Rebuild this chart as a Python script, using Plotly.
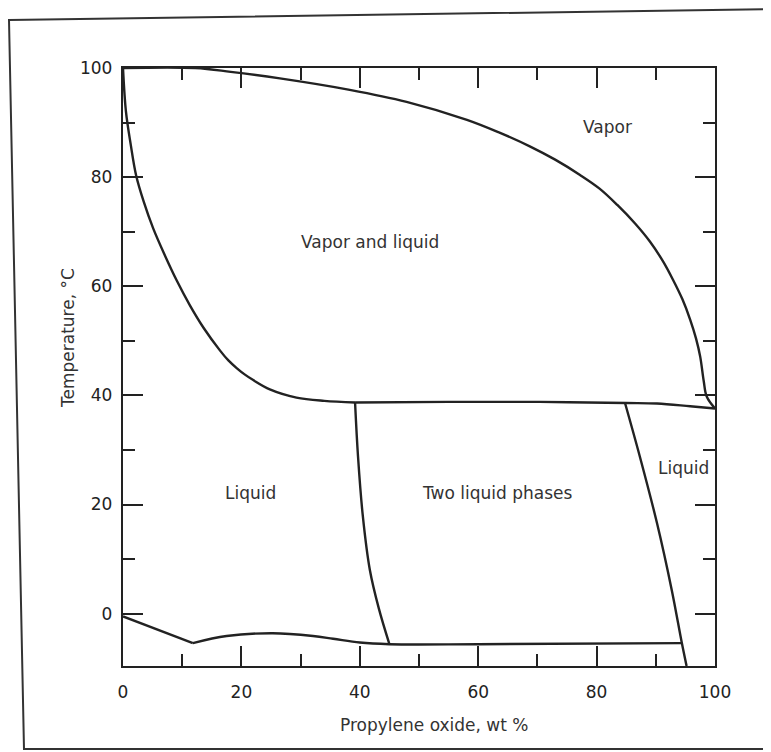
import plotly.graph_objects as go

# ---- data ----
dew_x = [0, 12.2, 18.2, 26.5, 38.3, 47.9, 58.1, 63.5, 68.8, 73.0, 77.2, 80.5, 83.5, 86.5, 89.0, 91.2,
         92.9, 94.5, 95.8, 96.8, 97.5, 98.1, 98.6, 100]
dew_y = [100, 100, 99.3, 98.1, 96.0, 93.8, 90.5, 88.2, 85.6, 83.2, 80.4, 77.9, 74.9, 71.5, 68.2, 64.6,
         61.2, 57.6, 53.9, 50.4, 47.1, 42.6, 39.8, 37.6]

bubble_x = [0, 0.5, 1.3, 2.2, 3.5, 5.1, 7.1, 9.1, 11.3, 13.6, 16.4, 17.8, 19.2, 20.6, 22, 24.8, 29.3,
            34.0, 39.2]
bubble_y = [100, 92, 86, 80.4, 75.5, 70.6, 65.6, 61.0, 56.5, 52.4, 48.2, 46.4, 45.0, 43.8, 42.8, 41.1,
            39.6, 39.0, 38.7]

three_x = [39.2, 55, 70.4, 85, 90.2, 95.8, 100]
three_y = [38.7, 38.8, 38.8, 38.6, 38.5, 38.0, 37.6]

left_x = [39.2, 39.7, 40.5, 41.7, 43.2, 45.0]
left_y = [38.7, 28.8, 18, 8, 1, -5.6]

right_x = [84.8, 87.3, 90.2, 92.7, 94.4, 95.2]
right_y = [38.6, 28.8, 16.6, 4.3, -5.4, -9.6]

sol1_x = [0, 11.8]
sol1_y = [-0.5, -5.4]
sol2_x = [11.8, 17.5, 25.3, 32.1, 35.5, 40, 45, 60, 94.4]
sol2_y = [-5.4, -4.1, -3.6, -4.1, -4.6, -5.3, -5.6, -5.6, -5.4]

label_text = ["Vapor", "Vapor and liquid", "Liquid", "Two liquid phases", "Liquid"]
label_x = [81.9, 41.7, 21.5, 63.2, 94.6]
label_y = [89.2, 68.1, 22.1, 22.1, 26.7]

x_ticks = [0, 20, 40, 60, 80, 100]
y_ticks = [0, 20, 40, 60, 80, 100]

# ---- layout geometry (page has an 8px body margin) ----
OX, OY = 8, 8
W, H = 771 - OX, 752 - OY
PL, PR, PT, PB = 123 - OX, 715 - OX, 68 - OY, 666 - OY   # plot edges in figure px
L, R, T, B = PL, W - PR, PT, H - PB
pw, ph = PR - PL, PB - PT


def px_x(x):
    return (x - OX - PL) / pw


def px_y(y):
    return (PB - (y - OY)) / ph


fig = go.Figure()
curves = [(dew_x, dew_y, "spline"), (bubble_x, bubble_y, "spline"),
          (three_x, three_y, "spline"), (left_x, left_y, "spline"),
          (right_x, right_y, "spline"),
          (sol1_x, sol1_y, "linear"), (sol2_x, sol2_y, "spline")]
for xs, ys, shp in curves:
    fig.add_trace(go.Scatter(x=xs, y=ys, mode="lines",
                             line=dict(color="#222222", width=2.4, shape=shp, smoothing=1.0),
                             hoverinfo="skip", showlegend=False))

for t, x, y in zip(label_text, label_x, label_y):
    fig.add_annotation(x=x, y=y, text=t, showarrow=False, xanchor="center", yanchor="middle",
                       font=dict(family="DejaVu Sans", size=17, color="#333333"))

fig.add_annotation(xref="paper", yref="paper", x=px_x(435), y=px_y(725),
                   xanchor="center", yanchor="middle",
                   text="Propylene oxide, wt %", showarrow=False,
                   font=dict(family="DejaVu Sans", size=17, color="#333333"))
fig.add_annotation(xref="paper", yref="paper", x=px_x(68), y=px_y(338),
                   xanchor="center", yanchor="middle",
                   text="Temperature, °C", textangle=-90, showarrow=False,
                   font=dict(family="DejaVu Sans", size=17, color="#333333"))

# outer frame of the scanned figure (slightly skewed, as in the scan)
fx = [9, 780, 780, 24]
fy = [20, 9, 749, 749]
frame_path = "M " + " L ".join(f"{px_x(a):.5f},{px_y(b):.5f}" for a, b in zip(fx, fy)) + " Z"
fig.add_shape(type="path", xref="paper", yref="paper", path=frame_path,
              line=dict(color="#333333", width=2), layer="below")

axis_common = dict(
    showgrid=False, zeroline=False, showline=True, linecolor="#222222", linewidth=2.4,
    mirror="ticks", ticks="inside", ticklen=20, tickwidth=1.5, tickcolor="#222222",
    tickfont=dict(family="DejaVu Sans", size=17, color="#222222"),
    minor=dict(ticks="inside", ticklen=12, tickwidth=1.5, tickcolor="#222222", dtick=10),
)

fig.update_xaxes(range=[0, 100], tickvals=x_ticks, ticklabelstandoff=9, **axis_common)
fig.update_yaxes(range=[-9.6, 100], tickvals=y_ticks, ticklabelstandoff=5, **axis_common)

fig.update_layout(
    width=W, height=H,
    margin=dict(l=L, r=R, t=T, b=B),
    paper_bgcolor="white", plot_bgcolor="white",
    showlegend=False,
)

fig.write_html("out.html")
